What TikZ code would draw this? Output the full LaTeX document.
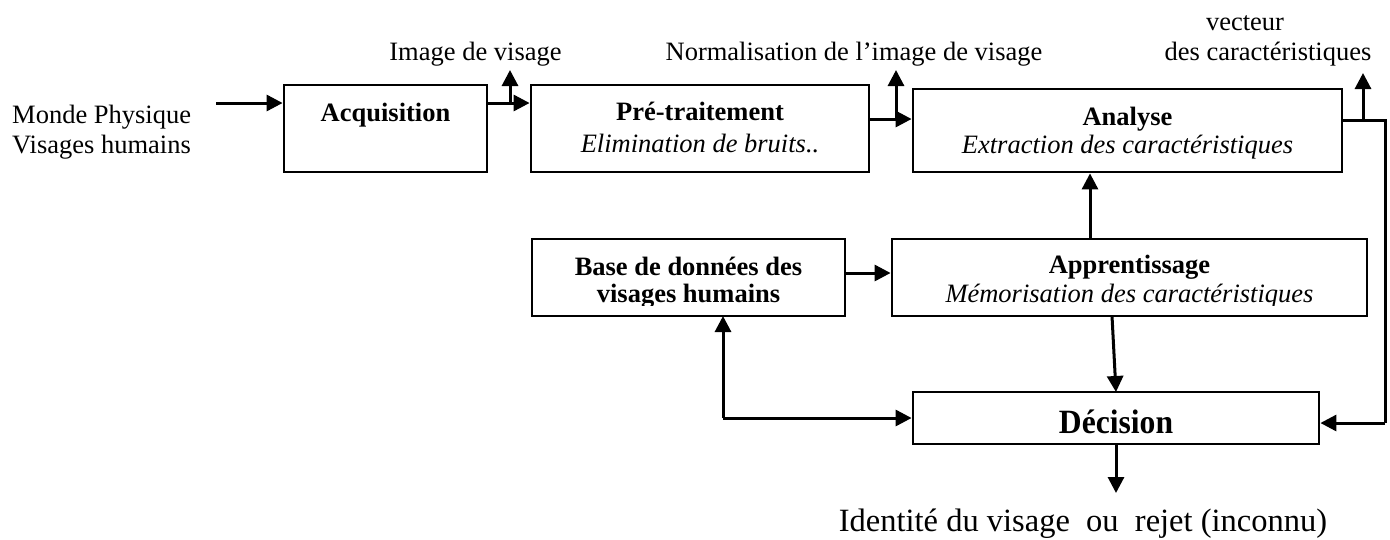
\documentclass[tikz,border=0pt]{standalone}
\usepackage{fontspec}
\setmainfont{Liberation Serif}
\usepackage{graphicx}
\usetikzlibrary{arrows.meta}
\begin{document}
\begin{tikzpicture}[x=1pt,y=-1pt,
  box/.style={draw, line width=2.8pt, inner sep=0pt},
  txt/.style={inner sep=0pt, font=\fontsize{26.5}{30}\selectfont},
  arr/.style={line width=3pt, -{Triangle[length=16pt,width=16pt]}},
  link/.style={line width=3pt}]
\useasboundingbox (0,0) rectangle (1390,539);

% processing blocks
\node[box, minimum width=203pt, minimum height=87pt] (acq) at (385.5,128.5) {};
\node[box, minimum width=338pt, minimum height=87pt] (pre) at (700,128.5) {};
\node[box, minimum width=429pt, minimum height=83pt] (ana) at (1127.5,130.5) {};
\node[box, minimum width=313pt, minimum height=77pt] (bdd) at (688.5,277.5) {};
\node[box, minimum width=475pt, minimum height=77pt] (app) at (1129.5,277.5) {};
\node[box, minimum width=406pt, minimum height=52pt] (dec) at (1116,418) {};

% block texts
\node[txt, anchor=base] (tacq) at (385.5,121) {\bfseries Acquisition};
\node[txt, anchor=base] (tpre) at (700,120) {\bfseries Pré-traitement};
\node[txt, anchor=base] (tpre2) at (700,152) {\itshape Elimination de bruits..};
\node[txt, anchor=base] (tana) at (1127.5,125) {\bfseries Analyse};
\node[txt, anchor=base] (tana2) at (1127.5,153) {\itshape Extraction des caractéristiques};
\node[txt, anchor=base] (tbdd) at (688.5,275) {\bfseries Base de données des};
\node[txt, anchor=base] (tapp) at (1129.5,273) {\bfseries Apprentissage};
\begin{scope}
  \clip (520,280) rectangle (1380,305);
  \node[txt, anchor=base] (tbdd2) at (688.5,302) {\bfseries visages humains};
  \node[txt, anchor=base] (tapp2) at (1129.5,302) {\itshape Mémorisation des caractéristiques};
\end{scope}
\node[txt, anchor=base] (tdec) at (1116,433)
  {\fontsize{34}{40}\selectfont\bfseries\scalebox{0.93}[1]{Décision}};

% free labels
\node[txt, anchor=base west] (world) at (12,123) {Monde Physique};
\node[txt, anchor=base west] (world2) at (12,153) {Visages humains};
\node[txt, anchor=base] (limg) at (475.5,60) {Image de visage};
\node[txt, anchor=base] (lnorm) at (854,60) {Normalisation de l’image de visage};
\node[txt, anchor=base] (lvec) at (1245,30) {vecteur};
\node[txt, anchor=base] (lvec2) at (1268,60) {des caractéristiques};
\node[txt, anchor=base] (lout) at (1083,531)
  {\fontsize{32.5}{38}\selectfont Identité du visage\ \ ou\ \ rejet (inconnu)};

% connection points
\coordinate (src) at (216,103);
\coordinate (j1) at (510,103);
\coordinate (j2) at (896,119);
\coordinate (j3) at (1363,120);
\coordinate (r1) at (1385,120);
\coordinate (r2) at (1385,423);
\coordinate (l1) at (723,316);
\coordinate (l2) at (723,418);
\coordinate (up1) at (510,70);
\coordinate (up2) at (896,70);
\coordinate (up3) at (1363,73);
\coordinate (a1) at (1112,316);
\coordinate (a2) at (1116,392);
\coordinate (o1) at (1116,444);
\coordinate (o2) at (1116,493);

% main chain
\draw[arr] (src) -- (src -| acq.west);
\draw[arr] (src -| acq.east) -- (src -| pre.west);
\draw[arr] (j1) -- (up1);
\draw[arr] (j2 -| pre.east) -- (j2 -| ana.west);
\draw[arr] (j2) -- (up2);

% feature vector output and loop to the decision
\draw[link] (r1 -| ana.east) -- (r1) -- (r2);
\draw[arr] (r2) -- (r2 -| dec.east);
\draw[arr] (j3) -- (up3);

% learning branch
\draw[arr] (bdd.east |- 0,273) -- (app.west |- 0,273);
\draw[arr] (app.north -| 1090,0) -- (ana.south -| 1090,0);
\draw[arr] (a1) -- (a2);
\draw[arr] (l2) -- (l1);
\draw[arr] (l2) -- (l2 -| dec.west);

% decision output
\draw[arr] (o1) -- (o2);
\end{tikzpicture}
\end{document}
